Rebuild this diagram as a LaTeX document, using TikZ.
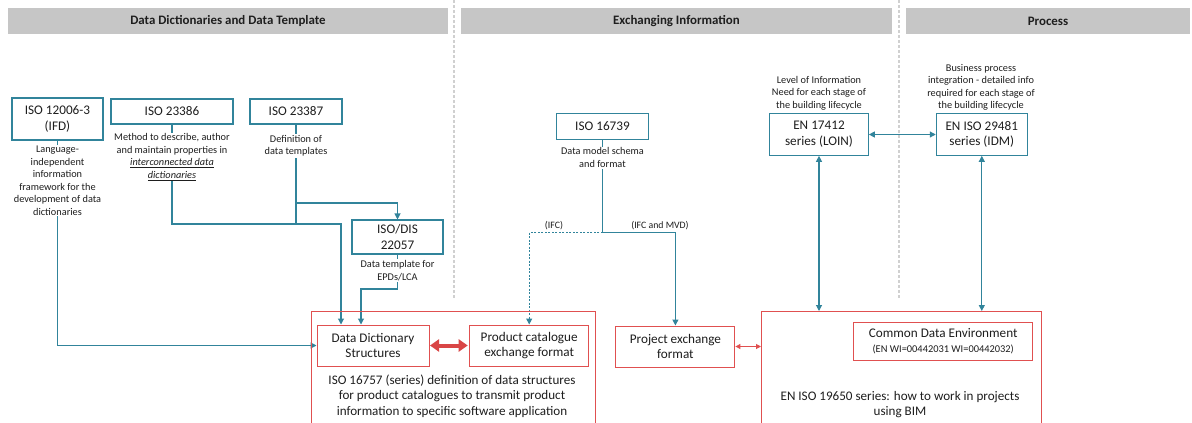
\documentclass[tikz,border=0pt]{standalone}
\usepackage{fontspec}
\setmainfont{Carlito}
\usetikzlibrary{arrows.meta,calc}
\pgfdeclarelayer{back}
\pgfdeclarelayer{bg}
\pgfsetlayers{back,bg,main}
\definecolor{teal1}{HTML}{31849B}
\definecolor{red1}{HTML}{E05050}
\definecolor{red2}{HTML}{D94646}
\definecolor{hdr}{HTML}{C6C6C6}
\definecolor{sepc}{HTML}{D0D0D0}
\definecolor{txt}{HTML}{1E1E1E}
\begin{document}
\begin{tikzpicture}[x=1pt,y=-1pt,
  every node/.style={text=txt},
  tbox/.style={draw=teal1,line width=1.1pt,fill=white,align=center,inner sep=0pt,font=\fontsize{13.2}{15.8}\selectfont},
  rbox/.style={draw=red1,line width=1pt,fill=white,align=center,inner sep=0pt,font=\fontsize{13.2}{15.8}\selectfont},
  bigbox/.style={draw=red1,line width=1pt},
  desc/.style={fill=white,align=center,inner sep=1pt,font=\fontsize{10.3}{12.5}\selectfont},
  bodytext/.style={align=center,inner sep=0pt,font=\fontsize{13.1}{15.3}\selectfont},
  lbl/.style={inner sep=0pt,font=\fontsize{9.8}{12}\selectfont},
  hbar/.style={fill=hdr,draw=none,inner sep=0pt,font=\bfseries\fontsize{12.9}{15}\selectfont},
  conn/.style={draw=teal1,line width=1.1pt},
  tipend/.style={-{Triangle[length=6pt,width=6pt]}},
  tipboth/.style={{Triangle[length=6pt,width=6pt]}-{Triangle[length=6pt,width=6pt]}},
  sepline/.style={draw=sepc,line width=1.2pt,dash pattern=on 3pt off 2pt}
]
\clip (0,0) rectangle (1192,423);
\begin{pgfonlayer}{back}
\fill[white] (0,0) rectangle (1192,423);
\end{pgfonlayer}

% header bars
\node[hbar,minimum width=440pt,minimum height=26pt] (h1) at (228,21) {Data Dictionaries and Data Template};
\node[hbar,minimum width=431pt,minimum height=26pt] (h2) at (676.5,21) {Exchanging Information};
\node[hbar,minimum width=284pt,minimum height=26pt] (h3) at (1048,21) {Process};

% separators
\coordinate (s1t) at (454,0); \coordinate (s1b) at (454,298);
\coordinate (s2t) at (899,0); \coordinate (s2b) at (899,298);
\draw[sepline] (s1t) -- (s1b);
\draw[sepline] (s2t) -- (s2b);

% big red boxes
\node[bigbox,minimum width=284pt,minimum height=130pt,anchor=north west] (leftbig) at (311,311) {};
\node[bigbox,minimum width=280pt,minimum height=130pt,anchor=north west] (rightbig) at (761,311) {};

% boxes
\node[tbox,minimum width=91pt,minimum height=42pt] (ifd) at (57.5,119) {ISO 12006-3\\(IFD)};
\node[tbox,minimum width=122pt,minimum height=25pt] (i23386) at (172,111.5) {ISO 23386};
\node[tbox,minimum width=92pt,minimum height=25pt] (i23387) at (296,111.5) {ISO 23387};
\node[tbox,minimum width=91pt,minimum height=34pt] (dis) at (397.5,237) {ISO/DIS\\22057};
\node[tbox,minimum width=92pt,minimum height=26pt] (i16739) at (602.5,126.3) {ISO 16739};
\node[tbox,minimum width=98.6pt,minimum height=41.6pt] (loin) at (819,134.5) {EN 17412\\series (LOIN)};
\node[tbox,minimum width=91pt,minimum height=41.6pt] (idm) at (981.8,134.5) {EN ISO 29481\\series (IDM)};

\node[rbox,minimum width=112pt,minimum height=41pt] (dds) at (373,345.5) {Data Dictionary\\Structures};
\node[rbox,minimum width=119pt,minimum height=41pt] (pc) at (529.2,345.5) {Product catalogue\\exchange format};
\node[rbox,minimum width=119pt,minimum height=41pt] (pef) at (675.4,346.5) {Project exchange\\format};
\node[rbox,minimum width=179pt,minimum height=38.7pt] (cde) at (943.2,341.4) {Common Data Environment\\[-1pt]{\fontsize{10.4}{11}\selectfont (EN WI=00442031 WI=00442032)}};

% descriptions
\node[desc] (dIfd) at (57.5,180.5) {Language-\\independent\\information\\framework for the\\development of data\\dictionaries};
\node[desc] (d23386) at (172,157) {Method to describe, author\\and maintain properties in\\\underline{\textit{interconnected data}}\\\underline{\textit{dictionaries}}};
\node[desc] (d23387) at (296,146) {Definition of\\data templates};
\node[desc] (dDis) at (397.5,270.5) {Data template for\\EPDs/LCA};
\node[desc] (d16739) at (602.5,157.7) {Data model schema\\and format};
\node[desc] (dLoin) at (819,93) {Level of Information\\Need for each stage of\\the building lifecycle};
\node[desc] (dIdm) at (981,87.4) {Business process\\integration - detailed info\\required for each stage of\\the building lifecycle};

\node[bodytext] (t16757) at (452,396) {ISO 16757 (series) definition of data structures\\for product catalogues to transmit product\\information to specific software application};
\node[bodytext] (t19650) at (900,404.8) {EN ISO 19650 series: how to work in projects\\using BIM};

\node[lbl] (lIfc) at (554,225.3) {(IFC)};
\node[lbl] (lMvd) at (660,225.3) {(IFC and MVD)};

% junction coordinates
\coordinate (j1) at (341,224);
\coordinate (j2) at (296,203);
\coordinate (j3) at (361,289);
\coordinate (j4) at (602.5,232.3);

\begin{pgfonlayer}{bg}
\draw[conn,tipend] (ifd.south) |- (dds.west);
\draw[conn,tipend] (i23386.south) |- (j1) -- (j1 |- dds.north);
\draw[conn] (i23387.south) -- (i23387.south |- j1);
\draw[conn,tipend] (j2) -| (dis.north);
\draw[conn,tipend] (dis.south) |- (j3) -- (j3 |- dds.north);
\draw[conn] (i16739.south) -- (j4);
\draw[conn,tipend,dash pattern=on 2pt off 1.5pt] (j4) -| (pc.north);
\draw[conn,tipend] (j4) -| (pef.north);
\draw[conn,tipboth] (loin.east) -- (idm.west);
\draw[conn,tipboth] (loin.south) -- (loin.south |- rightbig.north);
\draw[conn,tipboth] (idm.south) -- (idm.south |- rightbig.north);
\end{pgfonlayer}

\draw[red2,line width=4pt,{Triangle[length=9pt,width=12pt]}-{Triangle[length=9pt,width=12pt]}] ([xshift=0.5pt]dds.east) -- ([xshift=-1.5pt]pc.west);
\draw[red1,line width=1pt,{Triangle[length=5pt,width=5pt]}-{Triangle[length=5pt,width=5pt]}] (pef.east) -- (pef.east -| rightbig.west);
\end{tikzpicture}
\end{document}
